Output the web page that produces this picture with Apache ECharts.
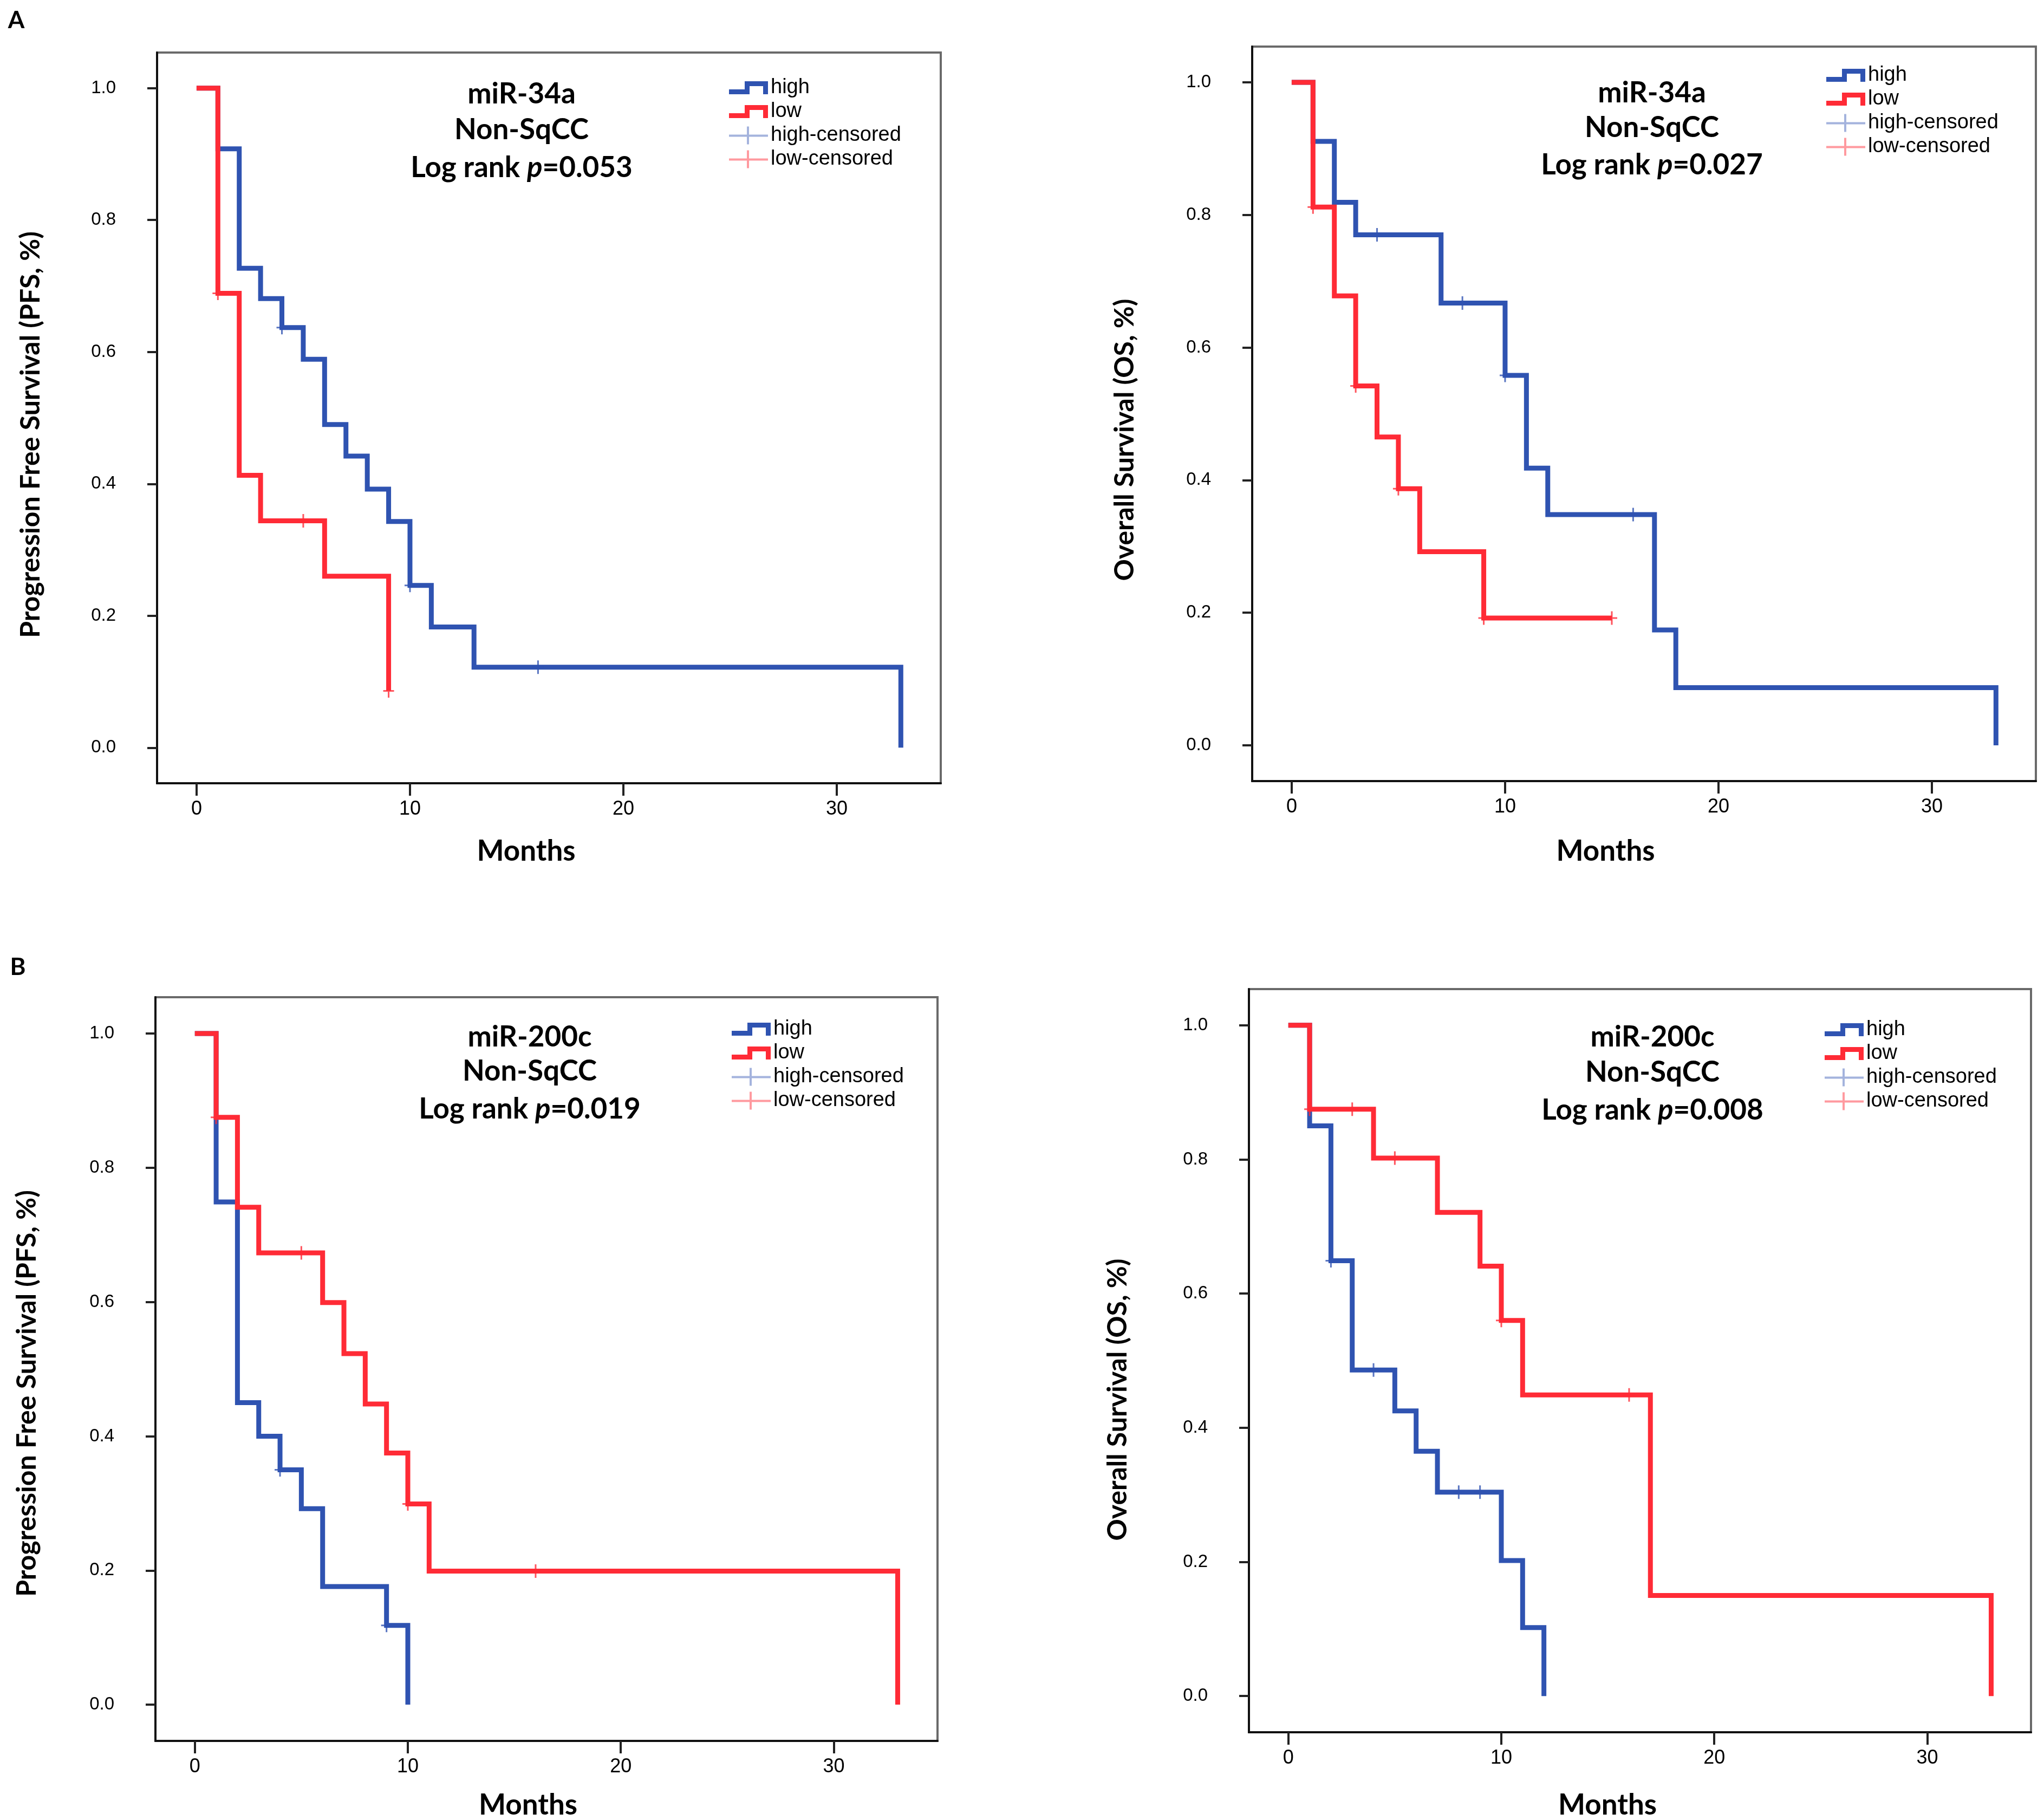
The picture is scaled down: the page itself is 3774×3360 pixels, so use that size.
<!DOCTYPE html>
<html>
<head>
<meta charset="utf-8">
<script src="https://cdn.jsdelivr.net/npm/echarts@6/dist/echarts.min.js"></script>
<style>
html,body{margin:0;padding:0;background:#ffffff;}
#chart{width:3774px;height:3360px;}
</style>
</head>
<body>
<div id="chart"></div>
<script>
// ---------------- data ----------------
const xTicks = [0, 10, 20, 30];
const yTicks = [0, 0.2, 0.4, 0.6, 0.8, 1.0];
const legendNames = ['high', 'low', 'high-censored', 'low-censored'];
const panelLetters = ['A', 'B'];
const panelGenes = ['miR-34a', 'miR-34a', 'miR-200c', 'miR-200c'];
const panelGroup = ['Non-SqCC', 'Non-SqCC', 'Non-SqCC', 'Non-SqCC'];
const panelPValues = ['0.053', '0.027', '0.019', '0.008'];
const xAxisTitle = 'Months';
const yAxisTitles = ['Progression Free Survival (PFS, %)', 'Overall Survival (OS, %)',
                     'Progression Free Survival (PFS, %)', 'Overall Survival (OS, %)'];

// A-left: miR-34a, PFS
const aPfsHighTime = [0, 1, 2, 3, 4, 5, 6, 7, 8, 9, 10, 11, 13, 33];
const aPfsHighSurv = [1, 0.908, 0.727, 0.681, 0.637, 0.589, 0.490, 0.442, 0.392, 0.343, 0.246, 0.183, 0.122, 0];
const aPfsHighCensTime = [4, 10, 16];
const aPfsHighCensSurv = [0.637, 0.246, 0.122];
const aPfsLowTime = [0, 1, 2, 3, 6, 9];
const aPfsLowSurv = [1, 0.689, 0.413, 0.344, 0.260, 0.086];
const aPfsLowCensTime = [1, 5, 9];
const aPfsLowCensSurv = [0.689, 0.344, 0.086];

// A-right: miR-34a, OS
const aOsHighTime = [0, 1, 2, 3, 7, 10, 11, 12, 17, 18, 33];
const aOsHighSurv = [1, 0.911, 0.819, 0.770, 0.667, 0.558, 0.418, 0.348, 0.174, 0.087, 0];
const aOsHighCensTime = [4, 8, 10, 16];
const aOsHighCensSurv = [0.770, 0.667, 0.558, 0.348];
const aOsLowTime = [0, 1, 2, 3, 4, 5, 6, 9, 15];
const aOsLowSurv = [1, 0.812, 0.678, 0.542, 0.465, 0.387, 0.292, 0.192, 0.192];
const aOsLowCensTime = [1, 3, 5, 9, 15];
const aOsLowCensSurv = [0.812, 0.542, 0.387, 0.192, 0.192];

// B-left: miR-200c, PFS
const bPfsHighTime = [0, 1, 2, 3, 4, 5, 6, 9, 10];
const bPfsHighSurv = [1, 0.749, 0.450, 0.400, 0.350, 0.292, 0.176, 0.118, 0];
const bPfsHighCensTime = [4, 9];
const bPfsHighCensSurv = [0.350, 0.118];
const bPfsLowTime = [0, 1, 2, 3, 6, 7, 8, 9, 10, 11, 33];
const bPfsLowSurv = [1, 0.875, 0.741, 0.673, 0.599, 0.523, 0.448, 0.375, 0.299, 0.199, 0];
const bPfsLowCensTime = [1, 5, 10, 16];
const bPfsLowCensSurv = [0.875, 0.673, 0.299, 0.199];

// B-right: miR-200c, OS
const bOsHighTime = [0, 1, 2, 3, 5, 6, 7, 10, 11, 12];
const bOsHighSurv = [1, 0.850, 0.649, 0.486, 0.425, 0.365, 0.304, 0.202, 0.102, 0];
const bOsHighCensTime = [2, 4, 8, 9];
const bOsHighCensSurv = [0.649, 0.486, 0.304, 0.304];
const bOsLowTime = [0, 1, 4, 7, 9, 10, 11, 17, 33];
const bOsLowSurv = [1, 0.875, 0.802, 0.721, 0.641, 0.560, 0.449, 0.150, 0];
const bOsLowCensTime = [1, 3, 5, 10, 16];
const bOsLowCensSurv = [0.875, 0.875, 0.802, 0.560, 0.449];

// ---------------- layout / style ----------------
const BLUE = '#2f53b1';
const RED = '#ff2b36';
const BLUE_T = 'rgba(47,83,177,0.55)';
const RED_T = 'rgba(255,43,54,0.6)';
const BOLD = 'Lato';
const PLAIN = '"Liberation Sans", Arial, sans-serif';

const zip = (t, s) => t.map((v, i) => [v, s[i]]);

const panels = [
  { grid: [290, 97, 1447, 1349], hi: [aPfsHighTime, aPfsHighSurv], lo: [aPfsLowTime, aPfsLowSurv],
    hiC: [aPfsHighCensTime, aPfsHighCensSurv], loC: [aPfsLowCensTime, aPfsLowCensSurv],
    legend: [1346, 143], title: [963, 174, 240, 310], yGap: 208, yShift: 62, xGap: 99, xShift: 84 },
  { grid: [2312, 86, 1447, 1356], hi: [aOsHighTime, aOsHighSurv], lo: [aOsLowTime, aOsLowSurv],
    hiC: [aOsHighCensTime, aOsHighCensSurv], loC: [aOsLowCensTime, aOsLowCensSurv],
    legend: [3372, 120], title: [3050, 172, 236, 305], yGap: 210, yShift: 96, xGap: 103, xShift: 142 },
  { grid: [287, 1841, 1444, 1373], hi: [bPfsHighTime, bPfsHighSurv], lo: [bPfsLowTime, bPfsLowSurv],
    hiC: [bPfsHighCensTime, bPfsHighCensSurv], loC: [bPfsLowCensTime, bPfsLowCensSurv],
    legend: [1351, 1881], title: [978, 1915, 1978, 2048], yGap: 212, yShift: 90, xGap: 92, xShift: 68 },
  { grid: [2306, 1826, 1444, 1372], hi: [bOsHighTime, bOsHighSurv], lo: [bOsLowTime, bOsLowSurv],
    hiC: [bOsHighCensTime, bOsHighCensSurv], loC: [bOsLowCensTime, bOsLowCensSurv],
    legend: [3369, 1882], title: [3051, 1915, 1980, 2050], yGap: 217, yShift: 144, xGap: 108, xShift: 120 }
];

const STEP_ICON = 'path://M0,18 L29,18 L29,3 L72,3 L72,27 L63,27 L63,12 L38,12 L38,27 L0,27 Z';
const CENS_ICON = 'path://M0,15 L72,15 L72,19 L0,19 Z M33,0 L37,0 L37,33 L33,33 Z';
const CENS_MARK = 'path://M0,11 L20,11 L20,14 L0,14 Z M8.5,0 L11.5,0 L11.5,25 L8.5,25 Z';

const grids = [], xAxes = [], yAxes = [], series = [], legends = [], graphics = [];

panels.forEach((p, i) => {
  grids.push({ left: p.grid[0], top: p.grid[1], width: p.grid[2], height: p.grid[3],
    show: true, borderColor: '#6a6a6a', borderWidth: 4, backgroundColor: 'transparent' });
  xAxes.push({
    gridIndex: i, type: 'value', min: -1.85, max: 34.87,
    name: xAxisTitle, nameLocation: 'middle', nameGap: p.xGap,
    nameTextStyle: { fontFamily: BOLD, fontWeight: 'bold', fontSize: 53, color: '#000', lineHeight: 53,
                     padding: [0, p.xShift, 0, 0] },
    axisLine: { show: true, onZero: false, lineStyle: { color: '#111', width: 4 } },
    axisTick: { show: true, length: 23, lineStyle: { color: '#222', width: 4 }, customValues: xTicks },
    axisLabel: { show: true, margin: 30, fontFamily: PLAIN, fontSize: 36, color: '#000', customValues: xTicks },
    splitLine: { show: false }
  });
  yAxes.push({
    gridIndex: i, type: 'value', min: -0.054, max: 1.054,
    name: yAxisTitles[i], nameLocation: 'middle', nameGap: p.yGap,
    nameTextStyle: { fontFamily: BOLD, fontWeight: 'bold', fontSize: 50, color: '#000', lineHeight: 50,
                     padding: [0, p.yShift, 0, 0] },
    axisLine: { show: true, onZero: false, lineStyle: { color: '#111', width: 4 } },
    axisTick: { show: true, length: 18, lineStyle: { color: '#222', width: 4 }, customValues: yTicks },
    axisLabel: { show: true, margin: 76, fontFamily: PLAIN, fontSize: 33, color: '#000',
                 padding: [30, 0, 0, 0], customValues: yTicks,
                 formatter: v => Number(v).toFixed(1) },
    splitLine: { show: false }
  });
  const lineBase = { type: 'line', xAxisIndex: i, yAxisIndex: i, step: 'end', showSymbol: false,
                     symbol: 'none', silent: true, animation: false };
  series.push(Object.assign({}, lineBase, { name: 'high', data: zip(p.hi[0], p.hi[1]),
    itemStyle: { color: BLUE }, lineStyle: { color: BLUE, width: 9, join: 'miter', cap: 'butt' }, z: 3 }));
  series.push(Object.assign({}, lineBase, { name: 'low', data: zip(p.lo[0], p.lo[1]),
    itemStyle: { color: RED }, lineStyle: { color: RED, width: 9, join: 'miter', cap: 'butt' }, z: 4 }));
  series.push({ type: 'scatter', name: 'high-censored', xAxisIndex: i, yAxisIndex: i,
    data: zip(p.hiC[0], p.hiC[1]), symbol: CENS_MARK, symbolSize: [20, 25],
    itemStyle: { color: BLUE }, silent: true, animation: false, z: 5 });
  series.push({ type: 'scatter', name: 'low-censored', xAxisIndex: i, yAxisIndex: i,
    data: zip(p.loC[0], p.loC[1]), symbol: CENS_MARK, symbolSize: [20, 25],
    itemStyle: { color: RED }, silent: true, animation: false, z: 6 });

  legends.push({
    left: p.legend[0], top: p.legend[1], orient: 'vertical', itemGap: 6,
    itemWidth: 72, itemHeight: 33, selectedMode: false, padding: 0,
    textStyle: { fontFamily: PLAIN, fontSize: 38, color: '#000', lineHeight: 38 },
    data: [
      { name: legendNames[0], icon: STEP_ICON, itemStyle: { color: BLUE, borderWidth: 0 } },
      { name: legendNames[1], icon: STEP_ICON, itemStyle: { color: RED, borderWidth: 0 } },
      { name: legendNames[2], icon: CENS_ICON, itemStyle: { color: BLUE_T, borderWidth: 0 } },
      { name: legendNames[3], icon: CENS_ICON, itemStyle: { color: RED_T, borderWidth: 0 } }
    ]
  });

  const tf = 'bold 53px Lato';
  graphics.push({ type: 'text', x: p.title[0], y: p.title[1], silent: true,
    style: { text: panelGenes[i], font: tf, fill: '#000', textAlign: 'center', textVerticalAlign: 'middle' } });
  graphics.push({ type: 'text', x: p.title[0], y: p.title[2], silent: true,
    style: { text: panelGroup[i], font: tf, fill: '#000', textAlign: 'center', textVerticalAlign: 'middle' } });
  graphics.push({ type: 'text', x: p.title[0], y: p.title[3], silent: true,
    style: { text: '{n|Log rank }{i|p}{n|=' + panelPValues[i] + '}', textAlign: 'center', textVerticalAlign: 'middle',
      rich: { n: { font: tf, fill: '#000' }, i: { font: 'italic bold 53px Lato', fill: '#000' } } } });
});

graphics.push({ type: 'text', x: 30, y: 38, silent: true,
  style: { text: panelLetters[0], font: 'bold 44px Lato', fill: '#000', textAlign: 'center', textVerticalAlign: 'middle' } });
graphics.push({ type: 'text', x: 33, y: 1786, silent: true,
  style: { text: panelLetters[1], font: 'bold 44px Lato', fill: '#000', textAlign: 'center', textVerticalAlign: 'middle' } });

const chart = echarts.init(document.getElementById('chart'), null, { renderer: 'canvas' });
chart.setOption({
  backgroundColor: '#ffffff',
  animation: false,
  grid: grids,
  xAxis: xAxes,
  yAxis: yAxes,
  legend: legends,
  series: series,
  graphic: graphics
});
</script>
</body>
</html>
